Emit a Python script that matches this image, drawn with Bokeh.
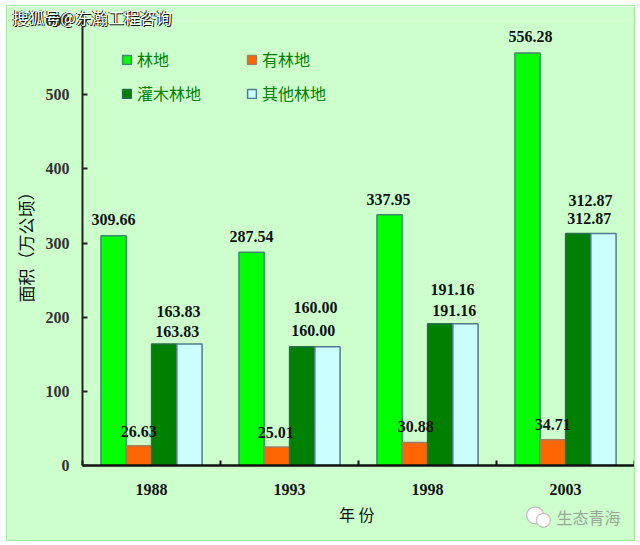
from bokeh.plotting import figure
from bokeh.embed import file_html
from bokeh.resources import INLINE
from bokeh.models import (ColumnDataSource, Range1d, LinearAxis,
                          FixedTicker, Legend, LegendItem, Label)
from bokeh.transform import dodge
from bokeh.core.properties import value

years = ["1988", "1993", "1998", "2003"]
woodland = [309.66, 287.54, 337.95, 556.28]
forest = [26.63, 25.01, 30.88, 34.71]
shrub = [163.83, 160.00, 191.16, 312.87]
other = [163.83, 160.00, 191.16, 312.87]
series_names = ["林地", "有林地", "灌木林地", "其他林地"]
y_ticks = [0, 100, 200, 300, 400, 500, 600]

W, H = 627, 534
PAGE_X, PAGE_Y = 7, 6
LEFT, RIGHT, TOP, BOTTOM = 75, 0, 14, 75
FRAME_X, FRAME_Y = 82, 465   # frame's lower-left corner in the picture
BG = "#CCFFCC"
SERIF = "Liberation Serif"
CJK = "Noto Sans CJK SC"

centres = [i + 0.5 for i in range(len(years))]
bounds = list(range(len(years) + 1))

p = figure(width=W, height=H, output_backend="svg", toolbar_location=None,
           x_range=Range1d(0, len(years)),
           y_range=Range1d(0, 600), x_axis_location=None, y_axis_location=None,
           min_border_left=LEFT, min_border_right=RIGHT, min_border_top=TOP, min_border_bottom=BOTTOM,
           background_fill_color=BG, border_fill_color=BG, outline_line_color=None,
           styles={"outline": "1px solid #9FE89F", "margin-left": f"{PAGE_X}px", "margin-top": f"{PAGE_Y}px"})
p.grid.visible = False

src = ColumnDataSource(dict(x=centres, woodland=woodland, forest=forest, shrub=shrub, other=other))

bar_w = 0.183
offsets = [-0.275, -0.092, 0.092, 0.275]
colors = ["#00FF00", "#FF6600", "#008000", "#CCFFFF"]
lines = ["#3C8C6C", "#A08060", "#2A6E4A", "#4F7C8C"]
cols = ["woodland", "forest", "shrub", "other"]
rends = []
for c, off, fc, lc in zip(cols, offsets, colors, lines):
    rends.append(p.vbar(x=dodge("x", off), top=c, width=bar_w, bottom=0,
                        source=src, fill_color=fc, line_color=lc, line_width=1.5))

# data labels: pixel nudges from each bar's centre/top
def labels(vals, off, dx, dy):
    s = ColumnDataSource(dict(x=centres, v=vals, t=[f"{v:.2f}" for v in vals], dx=dx, dy=dy))
    p.text(x=dodge("x", off), y="v", text="t", source=s, x_offset="dx", y_offset="dy",
           text_align="center", text_baseline="middle", text_font=value(SERIF),
           text_font_style="bold", text_font_size="16px", text_color="#111111")

labels(woodland, offsets[0], [0, 0, -1, 3], [-16, -16, -15, -16])
labels(forest, offsets[1], [0, -1, 1, 0], [-14, -14, -16, -15])
labels(shrub, offsets[2], [13, 11, 14, 11], [-12, -16, -13, -15])
labels(other, offsets[3], [-11, -12, -13, -13], [-32, -39, -34, -33])

# y axis
ya = LinearAxis(ticker=FixedTicker(ticks=y_ticks), axis_label="面积（万公顷）",
                axis_line_color="#222222", axis_line_width=2,
                major_tick_line_color="#222222", major_tick_line_width=2,
                major_tick_in=5, major_tick_out=0, minor_tick_line_color=None,
                major_label_text_font=SERIF, major_label_text_font_style="bold",
                major_label_text_font_size="16px", major_label_text_color="#333333",
                major_label_standoff=13,
                axis_label_text_font=CJK, axis_label_text_font_size="17px",
                axis_label_text_font_style="normal", axis_label_text_color="#111111",
                axis_label_standoff=5)
p.add_layout(ya, "left")

# x axis: ticks at group boundaries, year labels at group centres
xt = LinearAxis(ticker=FixedTicker(ticks=bounds),
                major_label_overrides={b: "" for b in bounds},
                axis_line_color="#111111", axis_line_width=2.5,
                major_tick_line_color="#111111", major_tick_line_width=2,
                major_tick_in=5, major_tick_out=0, minor_tick_line_color=None,
                major_label_text_font_size="1px", major_label_standoff=0)
p.add_layout(xt, "below")
xa = LinearAxis(ticker=FixedTicker(ticks=centres),
                major_label_overrides=dict(zip(centres, years)),
                axis_line_color=None, major_tick_line_color=None, minor_tick_line_color=None,
                major_label_text_font=SERIF, major_label_text_font_style="bold",
                major_label_text_font_size="16px", major_label_text_color="#111111",
                major_label_standoff=12, axis_label="年  份",
                axis_label_text_font=CJK, axis_label_text_font_size="16px",
                axis_label_text_font_style="normal", axis_label_text_color="#111111",
                axis_label_standoff=4)
p.add_layout(xa, "below")

# legends: one per column so column and row gaps can differ
def legend(idx, px):
    leg = Legend(items=[LegendItem(label=series_names[i], renderers=[rends[i]]) for i in idx],
                 background_fill_alpha=0, border_line_color=None,
                 glyph_width=11, glyph_height=11, label_standoff=5, label_height=20, spacing=10,
                 margin=0, padding=0, label_text_font=CJK, label_text_font_size="16px",
                 label_text_color="#008000", label_text_line_height=1.0)
    leg.location = (px - FRAME_X, FRAME_Y - 105)
    p.add_layout(leg, "center")

legend([0, 2], 121)
legend([1, 3], 246)

# transparent sheet laid over the chart for the watermarks, so they are not clipped to the plot frame
sheet = figure(width=W, height=H, output_backend="svg", toolbar_location=None,
               x_range=Range1d(0, W), y_range=Range1d(0, H), x_axis_location=None, y_axis_location=None,
               min_border=0, background_fill_color=None, border_fill_color=None, outline_line_color=None,
               styles={"position": "absolute", "left": f"{PAGE_X}px", "top": f"{PAGE_Y}px",
                       "pointer-events": "none"})
sheet.grid.visible = False

def note(px, py, text, **kw):
    sheet.add_layout(Label(x=px - PAGE_X, y=H - (py - PAGE_Y), text=text, text_baseline="middle", **kw))

MARK = "搜狐号@东瀚工程咨询"
note(13, 17, MARK, text_font=CJK, text_font_size="16px", text_color="#111111")
note(11, 16, MARK, text_font=CJK, text_font_size="16px", text_color="#111111")
note(12, 16, MARK, text_font=CJK, text_font_size="16px", text_color="#FFFFFF")
note(525, 513, "●", text_font="DejaVu Sans", text_font_size="22px", text_color="#FFFFFF",
     text_outline_color="#BBBBBB")
note(535, 518, "●", text_font="DejaVu Sans", text_font_size="18px", text_color="#FFFFFF",
     text_outline_color="#BBBBBB")
note(556, 516, "生态青海", text_font=CJK, text_font_size="16px", text_color="#9AA89A")

open("out.html", "w").write(file_html([p, sheet], INLINE))
